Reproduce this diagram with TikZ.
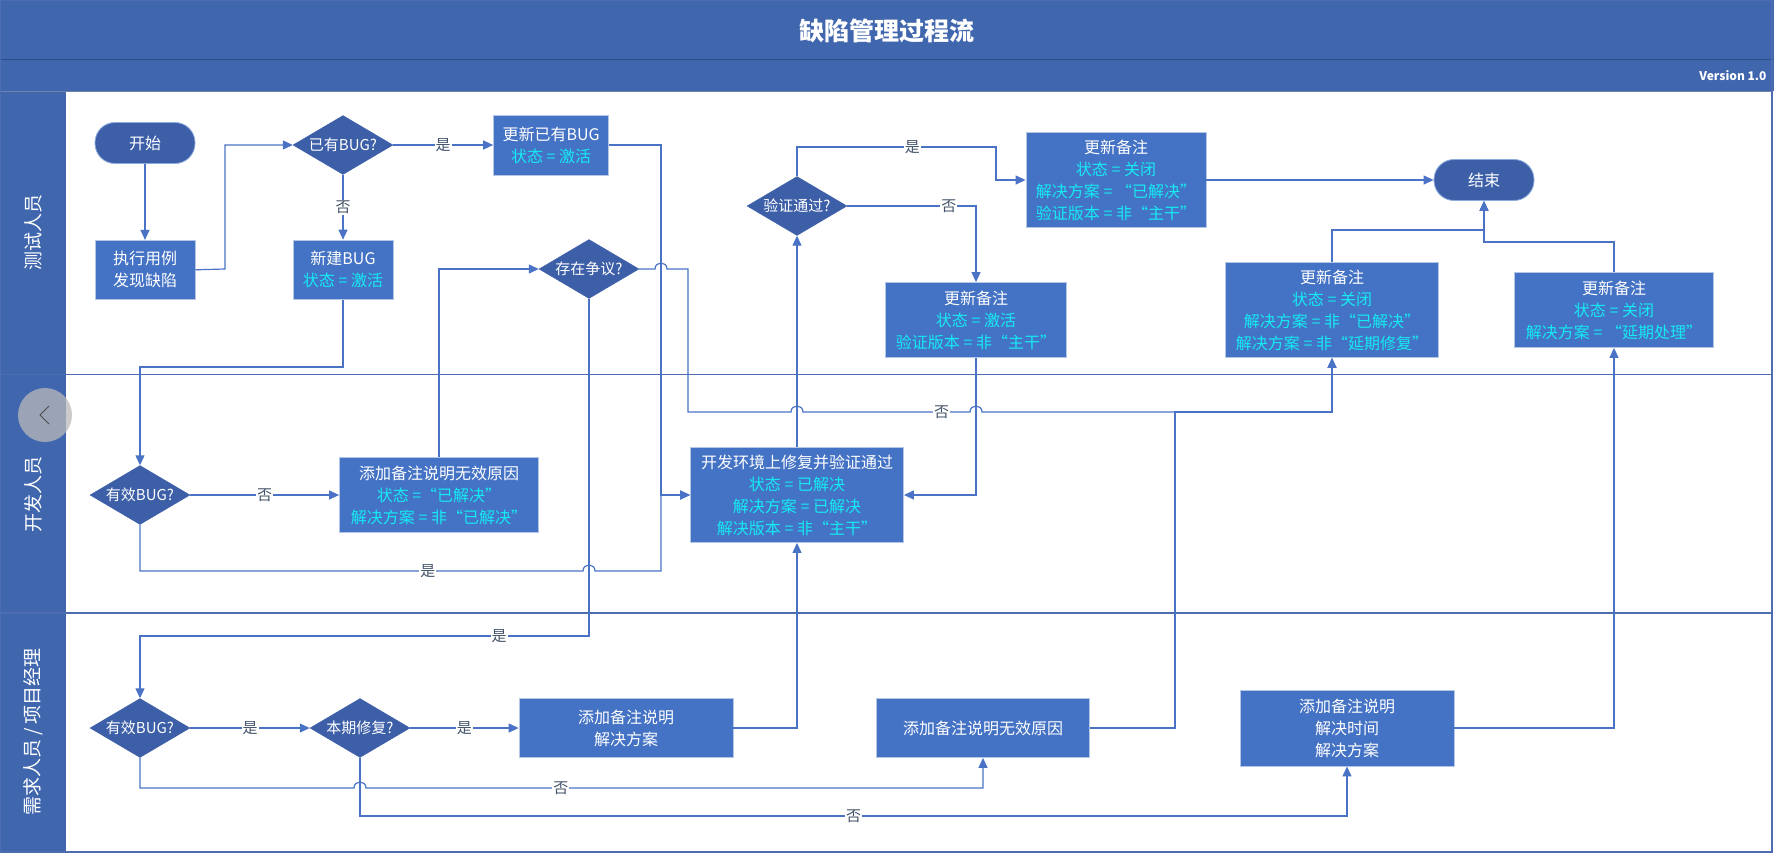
\documentclass[tikz,border=0pt]{standalone}
\usepackage{fontspec}
\setmainfont{Noto Sans CJK SC}
\usepackage{xcolor}
\usetikzlibrary{shapes.geometric, arrows.meta, positioning}
\definecolor{barblue}{HTML}{4066AE}
\definecolor{barline}{HTML}{2E4C8A}
\definecolor{boxblue}{HTML}{4472C4}
\definecolor{darkblue}{HTML}{3C5FA8}
\definecolor{lineblue}{HTML}{4A73C6}
\definecolor{laneline}{HTML}{4E6CB0}
\definecolor{statecyan}{HTML}{16EAF2}
\definecolor{labelgray}{HTML}{44546A}
\tikzstyle{procbox} = [rectangle, draw=boxblue!40!white, fill=boxblue, text=white, align=center,
  inner sep=0pt, line width=0.8pt, font=\fontsize{16}{22}\selectfont]
\tikzstyle{decision} = [diamond, aspect=1.7, fill=darkblue, draw=darkblue, text=white, inner sep=0pt,
  minimum width=100pt, minimum height=59pt, font=\fontsize{15}{18}\selectfont]
\tikzstyle{terminal} = [rectangle, rounded corners=20pt, fill=darkblue, draw=boxblue!60!white, text=white,
  minimum width=100pt, minimum height=41pt, line width=0.8pt, font=\fontsize{16}{18}\selectfont]
\tikzstyle{lanelabel} = [rotate=90, text=white, font=\fontsize{19}{19}\selectfont]
\tikzstyle{yesno} = [fill=white, text=labelgray, inner sep=1pt, font=\fontsize{15}{15}\selectfont]
\tikzstyle{arrow} = [lineblue, line width=1.2pt, -{Triangle[length=10pt, width=9pt]}]
\newcommand{\st}[1]{\textcolor{statecyan}{#1}}

\begin{document}
\begin{tikzpicture}[x=1pt, y=-1pt]
  \useasboundingbox (0,0) rectangle (1774,857);

  % title, version bar and lanes
  \fill[barblue] (0,0) rectangle (1774,91);
  \fill[barblue] (0,91) rectangle (66,852);
  \draw[barline, line width=1pt] (0,59) -- (1774,59);
  \draw[barline!70!white, line width=1pt] (0,91) -- (1772,91);
  \draw[laneline, line width=1.2pt] (0,374.5) -- (1772,374.5);
  \draw[laneline, line width=1.2pt] (0,613) -- (1772,613);
  \draw[laneline, line width=1.2pt] (0.5,0.5) rectangle (1772,852);
  \node (title) [text=white, font=\fontsize{25}{25}\selectfont\bfseries] at (887,31) {缺陷管理过程流};
  \node (version) [anchor=east, text=white, font=\fontsize{12}{12}\selectfont\bfseries] at (1770,76) {Version 1.0};
  \node (lanetest) [lanelabel] at (33,232) {测试人员};
  \node (lanedev) [lanelabel] at (33,494) {开发人员};
  \node (lanepm) [lanelabel] at (33,732) {需求人员 / 项目经理};

  % tester lane
  \node (start) [terminal] at (145,143) {开始};
  \node (runcase) [procbox, minimum width=100pt, minimum height=59pt, below=76pt of start] {执行用例\\发现缺陷};
  \node (hasbug) [decision] at (343,145) {已有BUG?};
  \node (updbug) [procbox, minimum width=115pt, minimum height=60pt, right=100pt of hasbug] {更新已有BUG\\\st{状态 = 激活}};
  \node (newbug) [procbox, minimum width=100pt, minimum height=59pt, below=65pt of hasbug] {新建BUG\\\st{状态 = 激活}};
  \node (dispute) [decision] at (589,269) {存在争议?};
  \node (verify) [decision] at (797,206) {验证通过?};
  \node (closefix) [procbox, minimum width=180pt, minimum height=95pt] at (1116,180)
    {更新备注\\\st{状态 = 关闭}\\\st{解决方案 = “已解决”}\\\st{验证版本 = 非“主干”}};
  \node (reopen) [procbox, minimum width=181pt, minimum height=75pt] at (976,320)
    {更新备注\\\st{状态 = 激活}\\\st{验证版本 = 非“主干”}};
  \node (stop) [terminal] at (1484,180) {结束};
  \node (closeother) [procbox, minimum width=213pt, minimum height=95pt] at (1332,310)
    {更新备注\\\st{状态 = 关闭}\\\st{解决方案 = 非“已解决”}\\\st{解决方案 = 非“延期修复”}};
  \node (closedelay) [procbox, minimum width=199pt, minimum height=75pt] at (1614,310)
    {更新备注\\\st{状态 = 关闭}\\\st{解决方案 = “延期处理”}};

  % developer lane
  \node (devvalid) [decision] at (140,495) {有效BUG?};
  \node (invalid) [procbox, minimum width=199pt, minimum height=75pt] at (439,495)
    {添加备注说明无效原因\\\st{状态 =“已解决”}\\\st{解决方案 = 非“已解决”}};
  \node (devfix) [procbox, minimum width=213pt, minimum height=95pt] at (797,495)
    {开发环境上修复并验证通过\\\st{状态 = 已解决}\\\st{解决方案 = 已解决}\\\st{解决版本 = 非“主干”}};

  % pm lane
  \node (pmvalid) [decision] at (140,728) {有效BUG?};
  \node (thisfix) [decision] at (360,728) {本期修复?};
  \node (notefix) [procbox, minimum width=214pt, minimum height=59pt] at (626,728) {添加备注说明\\解决方案};
  \node (noteinvalid) [procbox, minimum width=213pt, minimum height=59pt] at (983,728) {添加备注说明无效原因};
  \node (notedelay) [procbox, minimum width=214pt, minimum height=76pt] at (1347,728) {添加备注说明\\解决时间\\解决方案};

  % connectors
  \draw[arrow] (start) -- (runcase);
  \draw[arrow] (runcase.east) -- (225,269) |- (hasbug.west);
  \draw[arrow] (hasbug) -- node[yesno] (yes1) {是} (updbug);
  \draw[arrow] (hasbug) -- node[yesno] (no1) {否} (newbug);
  \draw[arrow] (updbug.east) -- (661,145) |- (devfix.west);
  \draw[arrow] (newbug.south) |- (140,367) -- (devvalid.north);
  \draw[arrow] (devvalid) -- node[yesno] (no2) {否} (invalid);
  \draw[arrow] (invalid.north) |- (dispute.west);
  \draw[arrow] (devvalid.south) -- (140,571) -- node[yesno, pos=0.65] (yes2) {是} (583,571)
    .. controls (583,563) and (595,563) .. (595,571) -- (661,571) |- (devfix.west);
  \draw[arrow] (dispute.east) -- (655,269) .. controls (655,261) and (667,261) .. (667,269) -- (688,269)
    -- (688,412) -- (791,412) .. controls (791,404) and (803,404) .. (803,412)
    -- node[yesno, pos=0.83] (no3) {否} (970,412) .. controls (970,404) and (982,404) .. (982,412)
    -- (1332,412) -- (closeother.south);
  \draw[arrow] (dispute.south) -- (589,636) -- node[yesno, pos=0.2] (yes3) {是} (140,636) -- (pmvalid.north);
  \draw[arrow] (devfix) -- (verify);
  \draw[arrow] (verify.north) -- (797,147) -- node[yesno, pos=0.58] (yes4) {是} (996,147) |- (closefix.west);
  \draw[arrow] (verify.east) -- node[yesno, pos=0.79] (no4) {否} (976,206) -- (reopen.north);
  \draw[arrow] (reopen.south) |- (devfix.east);
  \draw[arrow] (closefix) -- (stop);
  \draw[arrow] (closeother.north) |- (1484,230) -- (stop.south);
  \draw[arrow] (closedelay.north) |- (1484,242) -- (stop.south);
  \draw[arrow] (pmvalid) -- node[yesno] (yes5) {是} (thisfix);
  \draw[arrow] (thisfix) -- node[yesno] (yes6) {是} (notefix);
  \draw[arrow] (notefix.east) -| (devfix.south);
  \draw[arrow] (pmvalid.south) -- (140,788) -- (354,788) .. controls (354,780) and (366,780) .. (366,788)
    -- node[yesno, pos=0.316] (no5) {否} (983,788) -- (noteinvalid.south);
  \draw[arrow] (thisfix.south) -- (360,816) -- node[yesno] (no6) {否} (1347,816) -- (notedelay.south);
  \draw[arrow] (noteinvalid.east) -- (1175,728) -- (1175,412) -- (1332,412) -- (closeother.south);
  \draw[arrow] (notedelay.east) -| (closedelay.south);

  % page back button
  \fill[gray!55, opacity=0.75] (45,415) circle (27);
  \draw[black!70, line width=0.8pt] (49,406) -- (40,415) -- (49,424);
\end{tikzpicture}
\end{document}
